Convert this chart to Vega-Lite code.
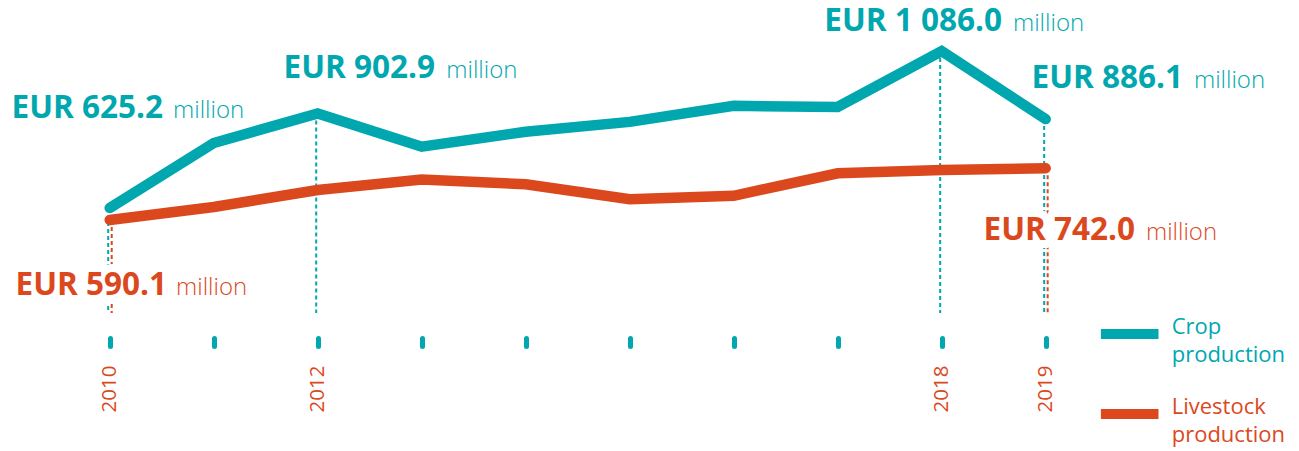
{
  "$schema": "https://vega.github.io/schema/vega-lite/v6.json",
  "width": 1299,
  "height": 338,
  "autosize": {"type": "none"},
  "padding": {"left": 0, "top": 0, "right": 0, "bottom": 113},
  "background": "white",
  "config": {
    "view": {"stroke": null},
    "font": "Open Sans",
    "style": {"guide-label": {"lineHeight": 28}}
  },
  "datasets": {
    "prod": [
      {"year": 2010, "series": "Crop production", "value": 625.2},
      {"year": 2011, "series": "Crop production", "value": 816},
      {"year": 2012, "series": "Crop production", "value": 902.9},
      {"year": 2013, "series": "Crop production", "value": 805},
      {"year": 2014, "series": "Crop production", "value": 849},
      {"year": 2015, "series": "Crop production", "value": 878},
      {"year": 2016, "series": "Crop production", "value": 925},
      {"year": 2017, "series": "Crop production", "value": 922},
      {"year": 2018, "series": "Crop production", "value": 1086.0},
      {"year": 2019, "series": "Crop production", "value": 886.1},
      {"year": 2010, "series": "Livestock production", "value": 590.1},
      {"year": 2011, "series": "Livestock production", "value": 628},
      {"year": 2012, "series": "Livestock production", "value": 678},
      {"year": 2013, "series": "Livestock production", "value": 709},
      {"year": 2014, "series": "Livestock production", "value": 695},
      {"year": 2015, "series": "Livestock production", "value": 651},
      {"year": 2016, "series": "Livestock production", "value": 661},
      {"year": 2017, "series": "Livestock production", "value": 727},
      {"year": 2018, "series": "Livestock production", "value": 737},
      {"year": 2019, "series": "Livestock production", "value": 742.0}
    ],
    "labels": [
      {"key": "c2010", "year": 2010, "value": 625.2, "bold": "EUR 625.2", "unit": "million"},
      {"key": "c2012", "year": 2012, "value": 902.9, "bold": "EUR 902.9", "unit": "million"},
      {"key": "c2018", "year": 2018, "value": 1086.0, "bold": "EUR 1 086.0", "unit": "million"},
      {"key": "c2019", "year": 2019, "value": 886.1, "bold": "EUR 886.1", "unit": "million"},
      {"key": "l2010", "year": 2010, "value": 590.1, "bold": "EUR 590.1", "unit": "million"},
      {"key": "l2019", "year": 2019, "value": 742.0, "bold": "EUR 742.0", "unit": "million"}
    ],
    "marks": [
      {"year": 2010, "series": "Crop production", "value": 625.2, "bottom": 317},
      {"year": 2012, "series": "Crop production", "value": 902.9, "bottom": 317},
      {"year": 2018, "series": "Crop production", "value": 1086.0, "bottom": 317},
      {"year": 2019, "series": "Crop production", "value": 886.1, "bottom": 317},
      {"year": 2010, "series": "Livestock production", "value": 590.1, "bottom": 317},
      {"year": 2019, "series": "Livestock production", "value": 742.0, "bottom": 317}
    ]
  },
  "encoding": {
    "x": {
      "field": "year",
      "type": "quantitative",
      "scale": {"domain": [2008.945, 2021.436], "nice": false, "zero": false},
      "axis": {
        "values": [2010, 2011, 2012, 2013, 2014, 2015, 2016, 2017, 2018, 2019],
        "format": "d",
        "labelExpr": "indexof([2010, 2012, 2018, 2019], datum.value) >= 0 ? datum.label : ''",
        "title": null,
        "domain": false,
        "grid": false,
        "ticks": true,
        "tickColor": "#00A7AF",
        "tickWidth": 5,
        "tickCap": "round",
        "tickSize": 8,
        "labelAngle": -90,
        "labelAlign": "right",
        "labelBaseline": "middle",
        "labelPadding": 19,
        "labelFont": "Open Sans",
        "labelFontSize": 20.5,
        "labelColor": "#DC481E",
        "labelOverlap": false,
        "labelFlush": false
      }
    },
    "y": {
      "field": "value",
      "type": "quantitative",
      "scale": {"domain": [243.6, 1235.7], "nice": false, "zero": false},
      "axis": null
    }
  },
  "layer": [
    {
      "data": {"name": "marks"},
      "transform": [{"filter": "datum.series == 'Crop production'"}],
      "mark": {"type": "rule", "color": "#00A7AF", "strokeWidth": 2, "strokeDash": [4, 3], "xOffset": -1.5},
      "encoding": {"y2": {"field": "bottom"}}
    },
    {
      "data": {"name": "marks"},
      "transform": [{"filter": "datum.series == 'Livestock production'"}],
      "mark": {"type": "rule", "color": "#DC481E", "strokeWidth": 2, "strokeDash": [4, 3], "xOffset": 2},
      "encoding": {"y2": {"field": "bottom"}}
    },
    {
      "data": {"name": "prod"},
      "mark": {"type": "line", "strokeWidth": 10.5, "strokeCap": "round", "strokeJoin": "miter"},
      "encoding": {
        "color": {
          "field": "series",
          "type": "nominal",
          "scale": {"domain": ["Crop production", "Livestock production"], "range": ["#00A7AF", "#DC481E"]},
          "legend": {
            "orient": "none",
            "legendX": 1095.7,
            "legendY": 300,
            "title": null,
            "padding": 0,
            "symbolType": "stroke",
            "symbolStrokeWidth": 10,
            "symbolSize": 3318,
            "labelFont": "Open Sans",
            "labelFontSize": 22,
            "labelExpr": "split(datum.label, ' ')",
            "labelLimit": 300,
            "labelOffset": 8,
            "labelBaseline": "alphabetic",
            "rowPadding": 14,
            "labelColor": {"expr": "datum.value == 'Crop production' ? '#00A7AF' : '#DC481E'"}
          }
        }
      }
    },
    {
      "data": {"name": "labels"},
      "transform": [{"filter": "datum.key == 'l2010'"}],
      "mark": {"type": "text", "align": "right", "baseline": "alphabetic", "dx": 57.3, "dy": 75, "font": "Open Sans", "fontSize": 31.5, "fontWeight": "bold", "color": "white", "stroke": "white", "strokeWidth": 16, "strokeJoin": "round"},
      "encoding": {"text": {"field": "bold"}}
    },
    {
      "data": {"name": "labels"},
      "transform": [{"filter": "datum.key == 'l2019'"}],
      "mark": {"type": "text", "align": "right", "baseline": "alphabetic", "dx": 89.3, "dy": 71.8, "font": "Open Sans", "fontSize": 31.5, "fontWeight": "bold", "color": "white", "stroke": "white", "strokeWidth": 16, "strokeJoin": "round"},
      "encoding": {"text": {"field": "bold"}}
    },
    {
      "data": {"name": "labels"},
      "transform": [{"filter": "datum.key == 'c2010'"}],
      "mark": {"type": "text", "align": "right", "baseline": "alphabetic", "dx": 53.3, "dy": -90, "font": "Open Sans", "fontSize": 31.5, "fontWeight": "bold", "color": "#00A7AF"},
      "encoding": {"text": {"field": "bold"}}
    },
    {
      "data": {"name": "labels"},
      "transform": [{"filter": "datum.key == 'c2010'"}],
      "mark": {"type": "text", "align": "left", "baseline": "alphabetic", "dx": 63.3, "dy": -90, "font": "Open Sans", "fontSize": 24, "fontWeight": 300, "color": "#00A7AF"},
      "encoding": {"text": {"field": "unit"}}
    },
    {
      "data": {"name": "labels"},
      "transform": [{"filter": "datum.key == 'c2012'"}],
      "mark": {"type": "text", "align": "right", "baseline": "alphabetic", "dx": 117.3, "dy": -35.1, "font": "Open Sans", "fontSize": 31.5, "fontWeight": "bold", "color": "#00A7AF"},
      "encoding": {"text": {"field": "bold"}}
    },
    {
      "data": {"name": "labels"},
      "transform": [{"filter": "datum.key == 'c2012'"}],
      "mark": {"type": "text", "align": "left", "baseline": "alphabetic", "dx": 128.6, "dy": -35.1, "font": "Open Sans", "fontSize": 24, "fontWeight": 300, "color": "#00A7AF"},
      "encoding": {"text": {"field": "unit"}}
    },
    {
      "data": {"name": "labels"},
      "transform": [{"filter": "datum.key == 'c2018'"}],
      "mark": {"type": "text", "align": "right", "baseline": "alphabetic", "dx": 60.3, "dy": -20, "font": "Open Sans", "fontSize": 31.5, "fontWeight": "bold", "color": "#00A7AF"},
      "encoding": {"text": {"field": "bold"}}
    },
    {
      "data": {"name": "labels"},
      "transform": [{"filter": "datum.key == 'c2018'"}],
      "mark": {"type": "text", "align": "left", "baseline": "alphabetic", "dx": 71.3, "dy": -20, "font": "Open Sans", "fontSize": 24, "fontWeight": 300, "color": "#00A7AF"},
      "encoding": {"text": {"field": "unit"}}
    },
    {
      "data": {"name": "labels"},
      "transform": [{"filter": "datum.key == 'c2019'"}],
      "mark": {"type": "text", "align": "right", "baseline": "alphabetic", "dx": 137.3, "dy": -31.1, "font": "Open Sans", "fontSize": 31.5, "fontWeight": "bold", "color": "#00A7AF"},
      "encoding": {"text": {"field": "bold"}}
    },
    {
      "data": {"name": "labels"},
      "transform": [{"filter": "datum.key == 'c2019'"}],
      "mark": {"type": "text", "align": "left", "baseline": "alphabetic", "dx": 148.3, "dy": -31.1, "font": "Open Sans", "fontSize": 24, "fontWeight": 300, "color": "#00A7AF"},
      "encoding": {"text": {"field": "unit"}}
    },
    {
      "data": {"name": "labels"},
      "transform": [{"filter": "datum.key == 'l2010'"}],
      "mark": {"type": "text", "align": "right", "baseline": "alphabetic", "dx": 57.3, "dy": 75, "font": "Open Sans", "fontSize": 31.5, "fontWeight": "bold", "color": "#DC481E"},
      "encoding": {"text": {"field": "bold"}}
    },
    {
      "data": {"name": "labels"},
      "transform": [{"filter": "datum.key == 'l2010'"}],
      "mark": {"type": "text", "align": "left", "baseline": "alphabetic", "dx": 66.3, "dy": 75, "font": "Open Sans", "fontSize": 24, "fontWeight": 300, "color": "#DC481E"},
      "encoding": {"text": {"field": "unit"}}
    },
    {
      "data": {"name": "labels"},
      "transform": [{"filter": "datum.key == 'l2019'"}],
      "mark": {"type": "text", "align": "right", "baseline": "alphabetic", "dx": 89.3, "dy": 71.8, "font": "Open Sans", "fontSize": 31.5, "fontWeight": "bold", "color": "#DC481E"},
      "encoding": {"text": {"field": "bold"}}
    },
    {
      "data": {"name": "labels"},
      "transform": [{"filter": "datum.key == 'l2019'"}],
      "mark": {"type": "text", "align": "left", "baseline": "alphabetic", "dx": 100.3, "dy": 71.8, "font": "Open Sans", "fontSize": 24, "fontWeight": 300, "color": "#DC481E"},
      "encoding": {"text": {"field": "unit"}}
    }
  ]
}
